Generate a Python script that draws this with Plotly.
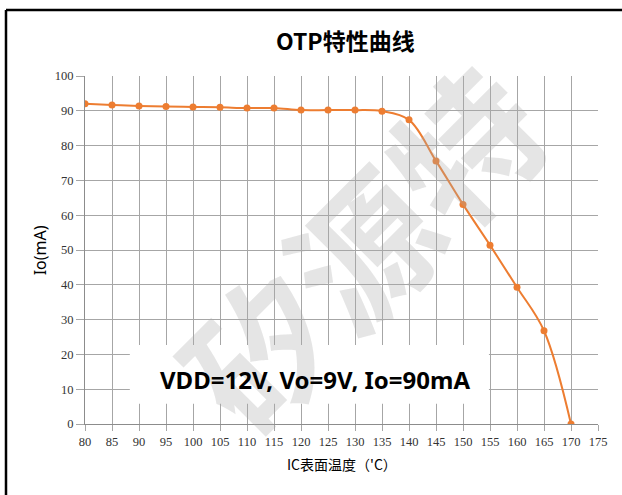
import plotly.graph_objects as go

temps = [80, 85, 90, 95, 100, 105, 110, 115, 120, 125, 130, 135, 140, 145, 150, 155, 160, 165, 170]
io_ma = [92.0, 91.7, 91.4, 91.2, 91.1, 91.0, 90.8, 90.8, 90.2, 90.2, 90.2, 89.9, 87.4, 75.6, 63.1, 51.4, 39.3, 26.8, 0.0]
x_ticks = list(range(80, 180, 5))
y_ticks = list(range(0, 110, 10))

title_text = "OTP特性曲线"
x_title = "IC表面温度（'C）"
y_title = "Io(mA)"
note_text = "VDD=12V, Vo=9V, Io=90mA"
watermark = "矽源特"

orange = "#ED7D31"
grid = "#a6a6a6"

fig = go.Figure()
fig.add_trace(go.Scatter(
    x=temps, y=io_ma, mode="lines+markers",
    line=dict(color=orange, width=2, shape="spline", smoothing=1.0),
    marker=dict(color=orange, size=7),
    showlegend=False, hoverinfo="skip",
))

tickfont = dict(family="Liberation Serif", size=12.5, color="#333333")

fig.update_layout(
    width=622, height=495,
    margin=dict(l=85, r=24, t=76, b=71),
    paper_bgcolor="white", plot_bgcolor="white",
    xaxis=dict(
        range=[80, 175], tickvals=x_ticks, ticktext=[str(v) for v in x_ticks],
        showgrid=True, gridcolor=grid, gridwidth=1,
        showline=True, linecolor="#8c8c8c", linewidth=1,
        ticks="outside", ticklen=6, tickcolor=grid,
        tickfont=tickfont, zeroline=False, fixedrange=True,
    ),
    yaxis=dict(
        range=[0, 100], tickvals=y_ticks, ticktext=[str(v) for v in y_ticks],
        showgrid=True, gridcolor=grid, gridwidth=1,
        showline=True, linecolor="#8c8c8c", linewidth=1,
        ticks="outside", ticklen=8, tickcolor=grid,
        tickfont=tickfont, zeroline=False, fixedrange=True,
    ),
    shapes=[
        dict(type="rect", xref="x", yref="y", x0=88.3, x1=154.8, y0=5.8, y1=22.7,
             fillcolor="white", line=dict(width=0), layer="above"),
        dict(type="line", xref="paper", yref="paper", x0=-0.154, x1=1.1, y0=1.19, y1=1.19,
             line=dict(color="black", width=2.5)),
        dict(type="line", xref="paper", yref="paper", x0=-0.154, x1=-0.154, y0=1.19, y1=-0.3,
             line=dict(color="black", width=2.5)),
    ],
    annotations=[
        dict(text=watermark, xref="paper", yref="paper", x=0.536, y=0.514,
             showarrow=False, textangle=-45,
             font=dict(family="Noto Sans CJK SC", size=145, color="rgba(170,170,170,0.3)", weight="bold"),
             xanchor="center", yanchor="middle"),
        dict(text=title_text, xref="paper", yref="paper", x=0.507, y=1.103,
             showarrow=False, font=dict(family="Noto Sans CJK SC", size=23, color="black", weight="bold"),
             xanchor="center", yanchor="middle"),
        dict(text=note_text, xref="x", yref="y", x=122.5, y=12.8,
             showarrow=False, font=dict(family="Noto Sans", size=24, color="black", weight="bold"),
             xanchor="center", yanchor="middle"),
        dict(text=y_title, xref="paper", yref="paper", x=-0.087, y=0.5,
             showarrow=False, textangle=-90,
             font=dict(family="Noto Sans", size=16, color="black"),
             xanchor="center", yanchor="middle"),
        dict(text=x_title, xref="paper", yref="paper", x=0.5, y=-0.116,
             showarrow=False, font=dict(family="Noto Sans CJK SC", size=14, color="black"),
             xanchor="center", yanchor="middle"),
    ],
)

fig.write_html("out.html", config={"displayModeBar": False},
               post_script="document.body.style.margin='0px';")
